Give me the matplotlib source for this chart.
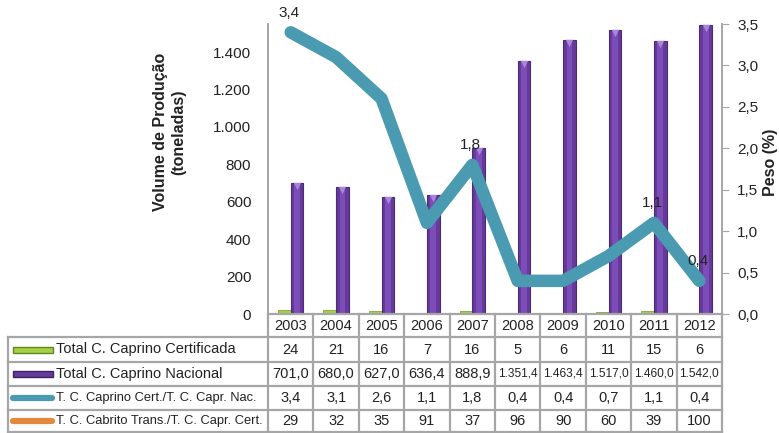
import matplotlib
matplotlib.use("Agg")
import matplotlib.pyplot as plt
import matplotlib.transforms as mtransforms
from matplotlib.lines import Line2D
from matplotlib.patches import Rectangle

plt.rcParams['font.family'] = ['Liberation Sans', 'DejaVu Sans']

years = ["2003", "2004", "2005", "2006", "2007", "2008", "2009", "2010", "2011", "2012"]
cert = [24, 21, 16, 7, 16, 5, 6, 11, 15, 6]
nacional = [701.0, 680.0, 627.0, 636.4, 888.9, 1351.4, 1463.4, 1517.0, 1460.0, 1542.0]
peso = [3.4, 3.1, 2.6, 1.1, 1.8, 0.4, 0.4, 0.7, 1.1, 0.4]
cabrito = [29, 32, 35, 91, 37, 96, 90, 60, 39, 100]
labelled = {"2003": 3.4, "2007": 1.8, "2011": 1.1, "2012": 0.4}

series_names = ["Total C. Caprino Certificada", "Total C. Caprino Nacional",
                "T. C. Caprino Cert./T. C. Capr. Nac.", "T. C. Cabrito Trans./T. C. Capr. Cert."]

GREEN = "#A6D046"
PURPLE = "#653A98"
PURPLE_LIGHT = "#7C4DB8"
TEAL = "#4A9BB1"
ORANGE = "#E2893D"
GRID = "#A6A6A6"
TXT = "#222222"

W, H = 779, 433
fig = plt.figure(figsize=(W / 100, H / 100), dpi=100)

# plot area in pixels
x0, x1 = 268, 722
y_top, y_bot = 24, 314

ax = fig.add_axes([x0 / W, 1 - y_bot / H, (x1 - x0) / W, (y_bot - y_top) / H])
n = len(years)
xs = list(range(n))
bw = 0.28
ax.bar([x - bw / 2 for x in xs], cert, width=bw, color=GREEN, edgecolor="#7FA82E", linewidth=0.6)
ax.bar([x + bw / 2 for x in xs], nacional, width=bw, color=PURPLE, edgecolor="#4B2A78", linewidth=0.8)
# lighter core of each column for a shaded look
ax.bar([x + bw / 2 for x in xs], nacional, width=bw * 0.45, color=PURPLE_LIGHT, linewidth=0)
# small bevel cap at the top of each column
cap = ax.transData + mtransforms.ScaledTranslation(0, -3 / 100, fig.dpi_scale_trans)
ax.scatter([x + bw / 2 for x in xs], nacional, marker="v", s=28, color="#A886D8",
           transform=cap, zorder=3, linewidths=0)
ax.set_xlim(-0.5, n - 0.5)
ax.set_ylim(0, 1550)
ax.set_yticks(range(0, 1401, 200))
ax.set_yticklabels(["0", "200", "400", "600", "800", "1.000", "1.200", "1.400"], fontsize=11, color=TXT)
ax.set_xticks([])
ax.tick_params(axis='y', length=0, pad=12)
ax.spines["top"].set_visible(False)
for s in ["left", "right", "bottom"]:
    ax.spines[s].set_color(GRID)
    ax.spines[s].set_linewidth(1.2)

ax2 = ax.twinx()
ax2.plot(xs, peso, color=TEAL, lw=9, solid_joinstyle='round', solid_capstyle='round')
ax2.set_ylim(0, 3.5)
ax2.set_yticks([i * 0.5 for i in range(8)])
ax2.set_yticklabels([f"{i * 0.5:.1f}".replace(".", ",") for i in range(8)], fontsize=11, color=TXT)
ax2.tick_params(axis='y', length=5, color=GRID, pad=6)
ax2.spines["top"].set_visible(False)
for s in ["left", "right", "bottom"]:
    ax2.spines[s].set_color(GRID)
    ax2.spines[s].set_linewidth(1.2)
for yr, v in labelled.items():
    i = years.index(yr)
    ax2.annotate(f"{v:.1f}".replace(".", ","), (xs[i], v), xytext=(-1, 9), textcoords="offset points",
                 ha="center", va="bottom", fontsize=11, color=TXT)

fig.text(170 / W, 1 - 132 / H, "Volume de Produção\n(toneladas)", rotation=90, ha="center", va="center",
         fontsize=11.5, fontweight="bold", color=TXT, linespacing=1.25)
fig.text(771 / W, 1 - 162 / H, "Peso (%)", rotation=90, ha="center", va="center",
         fontsize=11.5, fontweight="bold", color=TXT)

# data table below the plot, drawn in pixel coordinates
tab = fig.add_axes([0, 0, 1, 1])
tab.set_xlim(0, W)
tab.set_ylim(H, 0)
tab.axis("off")

rows = [314, 337, 362, 386, 410, 432]
xl = 8
cw = (x1 - x0) / n
cols = [x0 + i * cw for i in range(n + 1)]

def hline(y, xa, xb):
    tab.add_line(Line2D([xa, xb], [y, y], color=GRID, lw=1.6))

def vline(x, ya, yb):
    tab.add_line(Line2D([x, x], [ya, yb], color=GRID, lw=1.6))

hline(rows[0], x0, x1)
for y in rows[1:]:
    hline(y, xl, x1)
for x in cols:
    vline(x, rows[0], rows[-1])
vline(xl, rows[1], rows[-1])

def mid(r):
    return (rows[r] + rows[r + 1]) / 2

for i, yr in enumerate(years):
    tab.text((cols[i] + cols[i + 1]) / 2, mid(0), yr, ha="center", va="center", fontsize=10.5, color=TXT)

def fmt_num(v):
    s = f"{v:,.1f}"
    return s.replace(",", "X").replace(".", ",").replace("X", ".")

table_rows = [
    [str(v) for v in cert],
    [fmt_num(v) for v in nacional],
    [f"{v:.1f}".replace(".", ",") for v in peso],
    [str(v) for v in cabrito],
]
for r, vals in enumerate(table_rows):
    for i, s in enumerate(vals):
        fs = 8.6 if len(s) > 5 else 10.5
        tab.text((cols[i] + cols[i + 1]) / 2, mid(r + 1), s, ha="center", va="center", fontsize=fs, color=TXT)

# legend keys in the label column
tab.add_patch(Rectangle((13, mid(1) - 3), 40, 6, facecolor=GREEN, edgecolor="#5E8A22", lw=1))
tab.add_patch(Rectangle((13, mid(2) - 3), 40, 6, facecolor=PURPLE, edgecolor="#3E2266", lw=1))
tab.add_line(Line2D([13, 52], [mid(3), mid(3)], color=TEAL, lw=4.5, solid_capstyle="round"))
tab.add_line(Line2D([13, 52], [mid(4), mid(4)], color=ORANGE, lw=4.5, solid_capstyle="round"))
for r, name in enumerate(series_names):
    tab.text(56, mid(r + 1), name, ha="left", va="center", fontsize=10.5 if r < 2 else 9.3, color=TXT)

fig.savefig("out.png", dpi=100)
